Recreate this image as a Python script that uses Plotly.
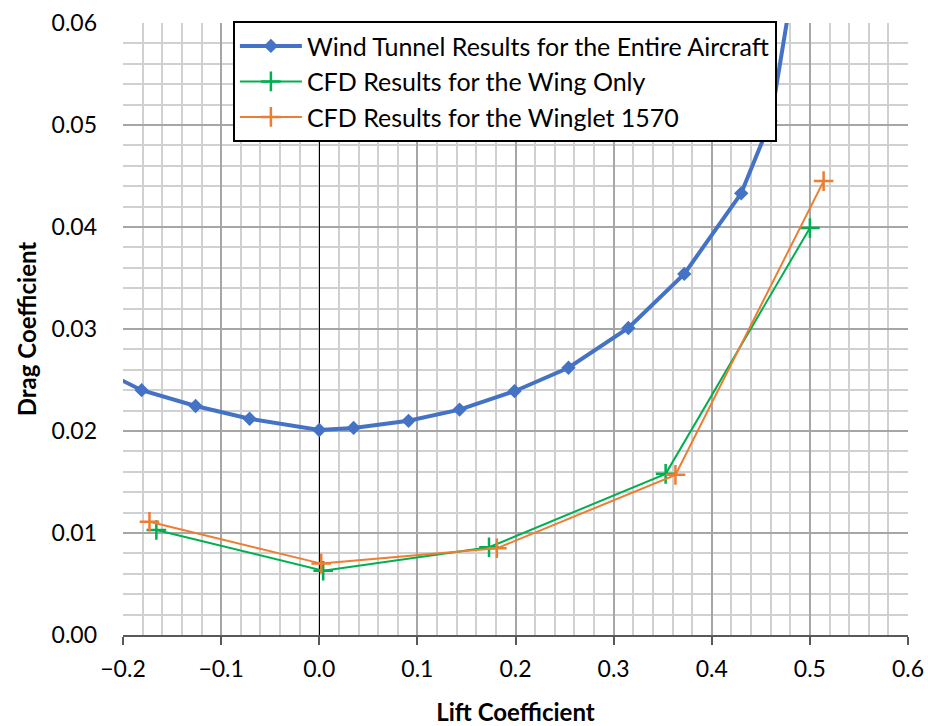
import plotly.graph_objects as go

# Wind tunnel results for the entire aircraft
wt_cl = [-0.235, -0.181, -0.126, -0.071, 0.0, 0.035, 0.091, 0.143, 0.199, 0.254, 0.315, 0.372, 0.43, 0.46, 0.49]
wt_cd = [0.0266, 0.0240, 0.02245, 0.0212, 0.0201, 0.0203, 0.0210, 0.0221, 0.0239, 0.0262, 0.0301, 0.0354, 0.0433, 0.0504, 0.0680]

# CFD results for the wing only
wing_cl = [-0.166, 0.004, 0.173, 0.353, 0.500]
wing_cd = [0.0103, 0.0063, 0.0086, 0.0158, 0.0399]

# CFD results for the winglet 1570
wl_cl = [-0.173, 0.002, 0.181, 0.363, 0.514]
wl_cd = [0.0111, 0.0070, 0.0085, 0.0157, 0.0445]

x_ticks = [-0.2, -0.1, 0.0, 0.1, 0.2, 0.3, 0.4, 0.5, 0.6]
y_ticks = [0.00, 0.01, 0.02, 0.03, 0.04, 0.05, 0.06]

FONT = "Lato"

fig = go.Figure()
fig.add_trace(go.Scatter(
    x=wt_cl, y=wt_cd, mode="lines+markers",
    name="Wind Tunnel Results for the Entire Aircraft",
    line=dict(color="#4472C4", width=4),
    marker=dict(symbol="diamond", size=11, color="#4472C4"),
    legendgroup="a",
))
fig.add_trace(go.Scatter(
    x=wing_cl, y=wing_cd, mode="lines+markers",
    name="CFD Results for the Wing Only",
    line=dict(color="#00B050", width=2),
    marker=dict(symbol="cross-thin", size=14, color="#00B050",
                line=dict(color="#00B050", width=2.5)),
    legendgroup="b",
))
fig.add_trace(go.Scatter(
    x=wl_cl, y=wl_cd, mode="lines+markers",
    name="CFD Results for the Winglet 1570",
    line=dict(color="#ED7D31", width=2),
    marker=dict(symbol="cross-thin", size=14, color="#ED7D31",
                line=dict(color="#ED7D31", width=2.5)),
    legendgroup="c",
))

fig.update_layout(
    width=928, height=726,
    margin=dict(l=123, r=20, t=23, b=91),
    paper_bgcolor="white", plot_bgcolor="white",
    font=dict(family=FONT, size=24, color="black"),
    showlegend=True,
    legend=dict(
        x=0.14, y=1.003, xanchor="left", yanchor="top",
        bgcolor="white", bordercolor="black", borderwidth=2,
        font=dict(family=FONT, size=25, color="black"),
        tracegroupgap=0, itemwidth=62,
    ),
    xaxis=dict(
        range=[-0.2, 0.6], tickvals=x_ticks, tickformat=".1f",
        showgrid=True, gridcolor="#a6a6a6", gridwidth=1.5,
        minor=dict(dtick=0.02, showgrid=True, gridcolor="#d0d0d0", gridwidth=1.5),
        zeroline=True, zerolinecolor="black", zerolinewidth=1.2,
        showline=True, linecolor="#595959", linewidth=2,
        ticks="outside", ticklen=8, tickcolor="#595959", tickwidth=1.5,
        tickfont=dict(family=FONT, size=23),
        ticklabelstandoff=4,
        title=dict(text="<b>Lift Coefficient</b>", font=dict(family=FONT, size=24), standoff=24),
        automargin=False,
        fixedrange=True,
    ),
    yaxis=dict(
        range=[0, 0.06], tickvals=y_ticks, tickformat=".2f",
        showgrid=True, gridcolor="#a6a6a6", gridwidth=1.5,
        minor=dict(dtick=0.002, showgrid=True, gridcolor="#d0d0d0", gridwidth=1.5),
        zeroline=False, showline=False, ticks="",
        tickfont=dict(family=FONT, size=23),
        ticklabelstandoff=25,
        title=dict(text="<b>Drag Coefficient</b>", font=dict(family=FONT, size=24), standoff=8),
        automargin=False,
        fixedrange=True,
    ),
    yaxis2=dict(
        overlaying="y", anchor="free", position=0.25, side="left",
        range=[0, 0.06], tickvals=y_ticks, showticklabels=False,
        showgrid=False, zeroline=False, showline=False,
        ticks="outside", ticklen=8, tickcolor="black", tickwidth=1.2,
        automargin=False,
        fixedrange=True,
    ),
)

fig.write_html("out.html")
